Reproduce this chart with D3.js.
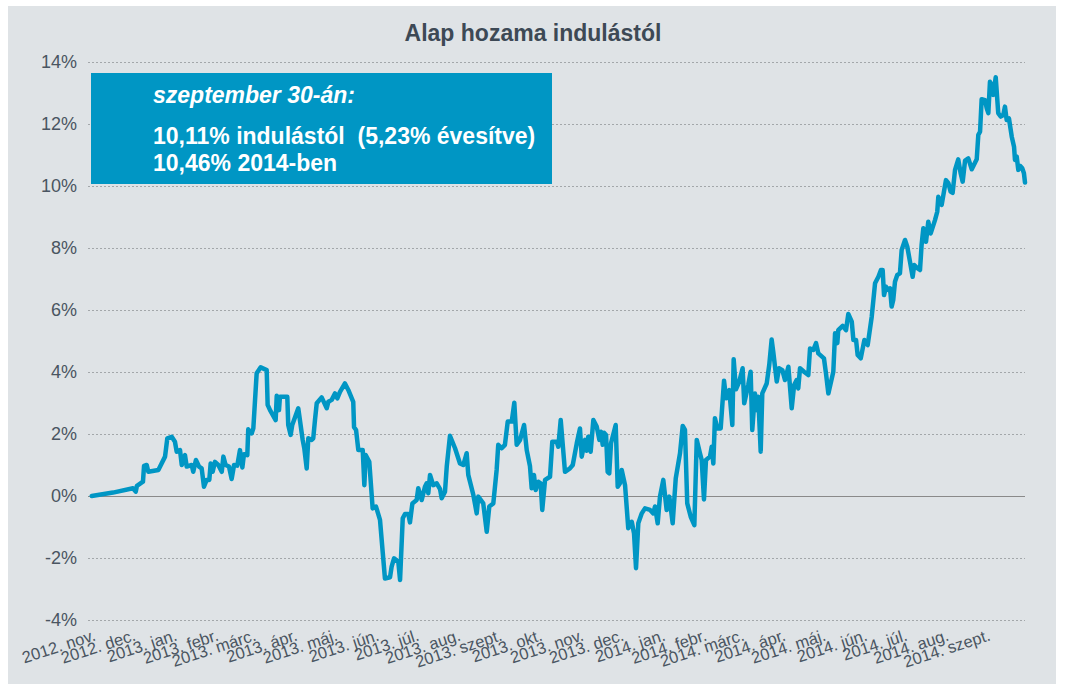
<!DOCTYPE html>
<html>
<head>
<meta charset="utf-8">
<script src="https://cdn.jsdelivr.net/npm/d3@7"></script>
<style>
  body { margin: 0; background: #fff; }
  svg { display: block; font-family: "Liberation Sans", Arial, sans-serif; }
</style>
</head>
<body>
<svg id="chart" width="1065" height="684"></svg>
<script>
// month labels under the x axis (one per month start)
const monthLabels = ["2012. nov.", "2012. dec.", "2013. jan.", "2013. febr.", "2013. márc.", "2013. ápr.",
    "2013. máj.", "2013. jún.", "2013. júl.", "2013. aug.", "2013. szept.", "2013. okt.", "2013. nov.",
    "2013. dec.", "2014. jan.", "2014. febr.", "2014. márc.", "2014. ápr.", "2014. máj.", "2014. jún.",
    "2014. júl.", "2014. aug.", "2014. szept."];

const yTicks = [-4, -2, 0, 2, 4, 6, 8, 10, 12, 14];

// [days since 2012-11-01, return since launch in %]
const fundReturn = [[1.3,0.00],[17.2,0.11],[32.1,0.25],[34.2,0.14],[35.1,0.33],[39.6,0.46],[40.4,0.97],[42.4,1.00],[43.6,0.78],[51.1,0.84],
[56.1,1.27],[57.8,1.86],[61.1,1.91],[63.5,1.75],[64.8,1.43],[67.3,1.48],[68.6,1.00],[71.0,1.32],[72.3,0.95],[76.0,1.00],[77.2,0.78],
[79.2,1.16],[81.5,0.95],[83.5,0.89],[85.2,0.30],[87.2,0.52],[89.2,0.52],[90.2,1.05],[91.7,0.78],[93.4,1.10],[95.9,1.00],[98.5,0.78],
[99.7,1.27],[101.4,1.00],[103.9,0.95],[105.9,0.55],[107.7,1.00],[110.1,0.98],[112.1,1.48],[113.9,0.92],[115.1,1.35],[117.6,1.32],
[118.3,2.15],[120.9,2.02],[122.1,2.18],[124.6,3.96],[127.6,4.15],[132.1,4.06],[132.8,2.94],[134.6,2.77],[138.8,2.45],[139.6,3.23],
[141.3,2.77],[142.0,3.20],[147.5,3.20],[148.2,2.29],[150.0,1.97],[151.2,2.29],[155.7,2.83],[159.0,1.81],[160.2,1.54],[162.0,0.89],
[163.2,1.86],[165.7,1.81],[166.9,1.86],[168.2,2.45],[169.5,2.99],[173.2,3.18],[177.0,2.83],[178.2,3.04],[180.7,3.10],[183.2,3.31],
[184.9,3.15],[186.9,3.36],[190.6,3.63],[193.1,3.42],[196.8,3.04],[197.4,2.22],[198.9,2.13],[200.6,1.48],[203.9,1.48],[205.1,0.35],
[206.1,1.32],[208.8,1.10],[211.3,-0.40],[213.8,-0.34],[216.8,-0.77],[218.8,-1.80],[220.5,-2.66],[224.3,-2.62],[225.5,-2.28],[227.3,-2.01],
[230.5,-2.12],[231.8,-2.71],[233.8,-0.72],[235.5,-0.58],[238.0,-0.58],[239.2,-0.85],[241.0,-0.24],[244.2,-0.13],[245.4,0.25],[248.0,-0.13],
[250.4,0.30],[251.7,0.41],[252.9,0.09],[254.2,0.68],[256.6,0.35],[259.2,0.41],[261.7,0.22],[262.9,-0.07],[265.4,0.14],[266.7,0.95],
[269.1,1.94],[272.9,1.54],[276.6,1.05],[279.1,1.00],[281.6,1.38],[282.8,0.68],[286.6,0.03],[289.1,-0.56],[290.3,-0.02],[294.0,-0.24],
[296.6,-1.15],[298.5,-0.34],[301.5,-0.24],[304.0,0.84],[305.2,1.65],[307.8,1.54],[310.2,1.65],[312.3,2.40],[315.3,2.40],[317.2,3.01],
[319.0,1.65],[321.5,1.81],[324.5,2.29],[326.5,1.48],[328.9,0.97],[330.2,0.25],[331.9,0.68],[333.2,0.19],[335.2,0.46],[336.9,0.41],
[338.1,-0.45],[340.2,0.52],[343.9,0.62],[345.6,1.75],[348.9,1.75],[350.1,1.59],[351.9,2.45],[355.1,0.78],[358.8,0.89],[360.9,1.00],
[363.9,1.70],[366.3,2.18],[367.6,1.27],[370.1,1.81],[371.3,1.46],[372.5,1.91],[374.3,1.43],[376.3,2.45],[378.8,2.24],[380.8,1.81],
[382.0,2.07],[383.3,1.65],[384.3,2.04],[385.8,1.97],[387.0,0.78],[388.2,0.73],[389.5,1.70],[393.0,2.29],[394.5,0.30],[396.2,0.41],
[397.5,0.84],[400.0,0.35],[402.4,-1.04],[405.0,-0.83],[406.7,-1.20],[408.2,-2.33],[409.9,-0.88],[412.5,-0.56],[414.9,-0.40],[418.7,-0.45],
[421.1,-0.56],[422.4,-0.34],[424.4,-0.88],[426.1,-0.02],[428.6,0.52],[431.1,-0.45],[433.1,-0.02],[435.6,-0.88],[437.9,0.57],[441.1,1.38],
[443.1,2.26],[444.8,2.13],[446.5,-0.24],[449.1,-0.67],[451.8,-0.94],[453.6,1.81],[456.0,1.38],[457.3,1.16],[459.0,-0.11],[460.5,1.16],
[463.5,1.27],[464.8,1.59],[466.0,1.05],[467.2,2.51],[469.0,2.18],[471.5,2.18],[474.0,3.72],[475.5,3.15],[477.9,3.42],[480.2,2.29],
[481.2,4.41],[482.9,3.44],[485.4,3.69],[487.9,4.12],[489.1,2.99],[492.1,3.58],[493.9,4.01],[495.1,2.13],[497.1,3.31],[498.4,2.77],
[499.6,3.20],[501.4,1.43],[502.6,3.31],[505.9,3.63],[507.8,4.23],[509.6,5.05],[510.8,4.65],[513.4,3.69],[515.1,4.12],[517.6,4.06],
[519.6,3.74],[522.1,4.17],[524.6,2.83],[526.4,3.58],[528.3,3.74],[529.5,3.47],[530.8,4.12],[533.8,4.01],[537.0,3.90],[538.3,4.76],
[540.7,4.71],[542.8,4.93],[544.5,4.60],[548.7,4.44],[550.2,3.96],[552.0,3.31],[555.7,4.01],[557.0,5.25],[558.7,4.93],[559.4,5.35],
[562.7,5.49],[565.2,5.35],[566.9,5.87],[569.5,5.62],[570.7,5.03],[572.7,5.03],[573.9,4.55],[576.2,4.44],[578.9,5.03],[581.4,4.87],
[584.4,5.78],[586.9,6.86],[589.4,7.07],[591.3,7.29],[592.6,7.29],[593.6,6.48],[595.1,6.75],[596.8,6.65],[598.1,6.70],[599.3,6.11],
[600.5,6.32],[601.8,6.91],[603.5,7.13],[605.5,7.18],[606.8,7.94],[609.3,8.26],[611.0,8.04],[613.0,7.56],[615.0,7.07],[616.2,7.45],
[618.5,7.35],[620.5,7.29],[621.7,8.10],[623.0,8.64],[625.0,8.20],[626.7,8.85],[628.5,8.47],[631.7,8.90],[633.4,9.17],[634.2,9.65],
[636.7,9.39],[639.9,10.19],[641.7,10.09],[643.4,9.82],[644.9,9.78],[646.7,10.52],[649.1,10.86],[650.9,10.41],[652.4,10.14],[654.2,10.82],
[656.6,10.89],[659.2,10.54],[661.6,10.75],[662.9,10.86],[664.1,11.65],[665.4,11.75],[666.6,12.80],[669.1,12.77],[670.4,12.51],[671.6,12.35],
[672.8,13.36],[674.1,13.26],[675.3,12.94],[677.1,13.51],[679.0,12.35],[680.8,12.24],[682.8,12.29],[684.0,12.56],[685.3,12.13],[687.0,12.18],
[689.1,11.59],[690.8,11.27],[691.5,10.84],[692.8,10.95],[694.0,10.52],[695.3,10.65],[697.0,10.57],[698.2,10.41],[699.0,10.11]];

const infoLines = ["szeptember 30-án:", "10,11% indulástól  (5,23% évesítve)", "10,46% 2014-ben"];

const textColor = "#4a5561";
const blue = "#0096c4";
const start = new Date(2012, 10, 1);
const end = new Date(2014, 9, 1);

const svg = d3.select("#chart");

// panel background
svg.append("rect")
    .attr("x", 8).attr("y", 6)
    .attr("width", 1048).attr("height", 678)
    .attr("fill", "#dfe3e6");

svg.append("text")
    .attr("x", 533).attr("y", 41)
    .attr("text-anchor", "middle")
    .attr("font-size", 23).attr("font-weight", "bold")
    .attr("fill", "#3d4955")
    .text("Alap hozama indulástól");

const xScale = d3.scaleTime().domain([start, end]).range([90, 1025]);
const yScale = d3.scaleLinear().domain([-4, 14]).range([620, 62]);

// Y axis with gridlines
const yAxis = svg.append("g")
    .attr("transform", "translate(88, 0)")
    .call(d3.axisLeft(yScale).tickValues(yTicks).tickSize(-937).tickPadding(11).tickFormat(d => d + "%"));
yAxis.select(".domain").remove();
yAxis.selectAll(".tick line")
    .attr("stroke", d => d === 0 ? "#8a8a8a" : "#a3a7aa")
    .attr("stroke-width", 1)
    .attr("stroke-dasharray", d => d === 0 ? null : "2,2");
yAxis.selectAll(".tick text")
    .attr("font-size", 18)
    .attr("font-family", "Liberation Sans, Arial, sans-serif")
    .attr("fill", textColor);

// X axis, month labels rotated
const monthStarts = d3.timeMonth.range(start, end);
const xAxis = svg.append("g")
    .attr("transform", "translate(0, 620)")
    .call(d3.axisBottom(xScale).tickValues(monthStarts).tickSize(0).tickFormat((d, i) => monthLabels[i]));
xAxis.select(".domain").remove();
xAxis.selectAll(".tick text")
    .attr("x", 0).attr("y", 0).attr("dy", 0)
    .attr("text-anchor", "end")
    .attr("transform", "translate(6, 20) rotate(-18)")
    .attr("font-size", 16.5)
    .attr("font-family", "Liberation Sans, Arial, sans-serif")
    .attr("fill", textColor);

// info box
svg.append("rect")
    .attr("x", 91).attr("y", 73)
    .attr("width", 461).attr("height", 111)
    .attr("fill", blue);

svg.selectAll(".info")
    .data(infoLines)
    .join("text")
    .attr("class", "info")
    .attr("x", 153)
    .attr("y", (d, i) => [103, 144, 171][i])
    .attr("font-size", 23).attr("font-weight", "bold")
    .attr("font-style", (d, i) => i === 0 ? "italic" : "normal")
    .attr("fill", "#fff")
    .style("white-space", "pre")
    .text(d => d);

// the fund line
const line = d3.line()
    .x(d => xScale(d3.timeDay.offset(start, 0).getTime() + d[0] * 864e5))
    .y(d => yScale(d[1]));

svg.append("path")
    .datum(fundReturn)
    .attr("fill", "none")
    .attr("stroke", blue)
    .attr("stroke-width", 4.5)
    .attr("stroke-linejoin", "round")
    .attr("stroke-linecap", "round")
    .attr("d", line);
</script>
</body>
</html>
